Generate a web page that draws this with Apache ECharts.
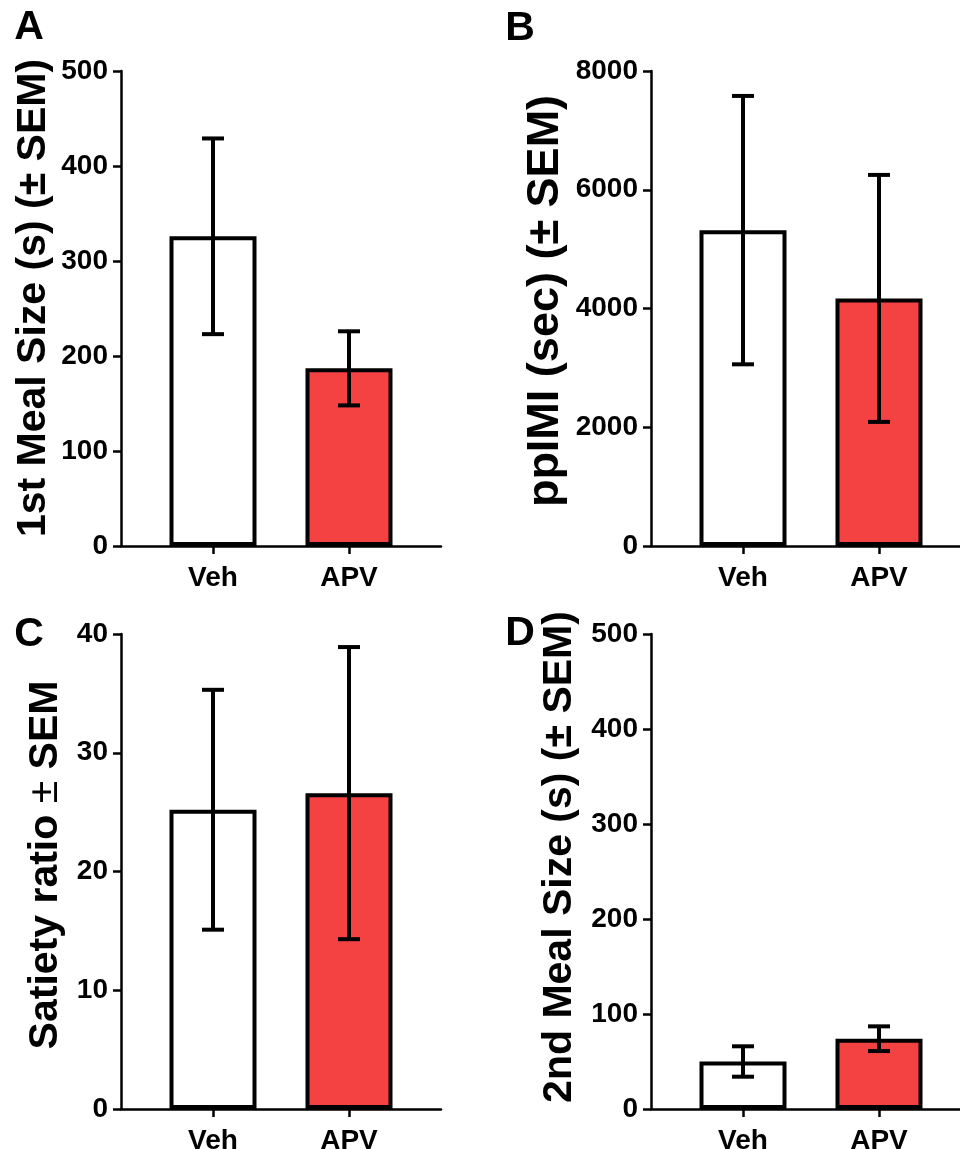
<!DOCTYPE html>
<html>
<head>
<meta charset="utf-8">
<script src="https://cdn.jsdelivr.net/npm/echarts@6/dist/echarts.min.js"></script>
<style>
  html, body { margin: 0; padding: 0; background: #ffffff; }
  #chart { width: 960px; height: 1149px; }
</style>
</head>
<body>
<div id="chart"></div>
<script>
// Treatment groups and their positions on the x scale
const groups = ['Veh', 'APV'];
const groupPos = [1, 2];

// A: first meal size (s), mean and SEM
const firstMealMean = [326, 187];
const firstMealSem = [103, 39];

// B: post-prandial inter-meal interval (sec), mean and SEM
const ppimiMean = [5320, 4170];
const ppimiSem = [2260, 2080];

// C: satiety ratio, mean and SEM
const satietyMean = [25.2, 26.6];
const satietySem = [10.1, 12.3];

// D: second meal size (s), mean and SEM
const secondMealMean = [50, 74];
const secondMealSem = [16, 13];

// y-axis ranges
const yMaxA = 500, yStepA = 100;
const yMaxB = 8000, yStepB = 2000;
const yMaxC = 40, yStepC = 10;
const yMaxD = 500, yStepD = 100;

const FONT = "'Liberation Sans', Arial, Helvetica, sans-serif";
const barFill = ['#ffffff', '#f44242'];

const panels = [
  { left: 121, top: 71,  max: yMaxA, step: yStepA, mean: firstMealMean,  sem: firstMealSem },
  { left: 651, top: 71,  max: yMaxB, step: yStepB, mean: ppimiMean,      sem: ppimiSem },
  { left: 121, top: 634, max: yMaxC, step: yStepC, mean: satietyMean,    sem: satietySem },
  { left: 651, top: 634, max: yMaxD, step: yStepD, mean: secondMealMean, sem: secondMealSem }
];

const axisLineStyle = { color: '#000', width: 2.5 };

// fixed plot rectangles; the right-hand x axes run off the page edge
const grid = panels.map(p => ({
  left: p.left, top: p.top, width: 320, height: 475,
  containLabel: false, outerBoundsMode: 'none'
}));

const xAxis = panels.map((p, i) => ({
  type: 'value',
  gridIndex: i,
  min: 0.3235,
  max: 2.6765,
  splitLine: { show: false },
  axisLine: { show: true, onZero: false, lineStyle: axisLineStyle },
  axisTick: { show: true, customValues: groupPos, length: 8, lineStyle: axisLineStyle },
  axisLabel: {
    customValues: groupPos,
    formatter: v => groups[groupPos.indexOf(Math.round(v))],
    color: '#000', fontFamily: FONT, fontWeight: 'bold', fontSize: 28, margin: 18
  }
}));

const yAxis = panels.map((p, i) => ({
  type: 'value',
  gridIndex: i,
  min: 0,
  max: p.max,
  interval: p.step,
  splitLine: { show: false },
  axisLine: { show: true, onZero: false, lineStyle: axisLineStyle },
  axisTick: { show: true, length: 8, lineStyle: axisLineStyle },
  axisLabel: {
    formatter: v => String(v),
    color: '#000', fontFamily: FONT, fontWeight: 'bold', fontSize: 28, margin: 13
  }
}));

// SEM whiskers with caps, positioned through the panel's own scales
function errorBar(params, api) {
  const x = api.value(0), m = api.value(1), s = api.value(2);
  const hi = api.coord([x, m + s]);
  const lo = api.coord([x, m - s]);
  const hw = 11;
  const st = { stroke: '#000', lineWidth: 4, lineCap: 'butt' };
  return {
    type: 'group',
    children: [
      { type: 'line', shape: { x1: hi[0], y1: hi[1], x2: lo[0], y2: lo[1] }, style: st },
      { type: 'line', shape: { x1: hi[0] - hw, y1: hi[1], x2: hi[0] + hw, y2: hi[1] }, style: st },
      { type: 'line', shape: { x1: lo[0] - hw, y1: lo[1], x2: lo[0] + hw, y2: lo[1] }, style: st }
    ]
  };
}

const series = [];
panels.forEach((p, i) => {
  series.push({
    type: 'bar',
    xAxisIndex: i,
    yAxisIndex: i,
    barWidth: 87,
    itemStyle: { borderColor: '#000', borderWidth: 4 },
    emphasis: { disabled: true },
    data: groupPos.map((x, j) => ({ value: [x, p.mean[j]], itemStyle: { color: barFill[j] } })),
    z: 2
  });
  series.push({
    type: 'custom',
    xAxisIndex: i,
    yAxisIndex: i,
    renderItem: errorBar,
    encode: { x: 0, y: 1 },
    data: groupPos.map((x, j) => [x, p.mean[j], p.sem[j]]),
    z: 3
  });
});

// Panel letters and rotated y-axis titles
function letter(t, x, y) {
  return {
    type: 'text', x: x, y: y,
    style: { text: t, fill: '#000', font: 'bold 41px ' + FONT,
             textAlign: 'center', align: 'center', textVerticalAlign: 'middle', verticalAlign: 'middle' }
  };
}
function yTitle(x, y, size, text, rich) {
  const style = { text: text, fill: '#000', font: 'bold ' + size + 'px ' + FONT,
                  textAlign: 'center', align: 'center', textVerticalAlign: 'middle', verticalAlign: 'middle' };
  if (rich) style.rich = rich;
  return { type: 'text', x: x, y: y, rotation: Math.PI / 2, style: style };
}

const graphic = [
  letter('A', 29, 28),
  letter('B', 520, 29),
  letter('C', 29, 635),
  letter('D', 520, 634),
  yTitle(34, 298, 41, '1st Meal Size (s) (\u00b1 SEM)'),
  yTitle(546, 301, 45, 'ppIMI (sec) (\u00b1 SEM)'),
  yTitle(46, 865, 41, '{b|Satiety ratio }{t|\u00b1}{b| SEM}', {
    b: { fontFamily: FONT, fontWeight: 'bold', fontSize: 41, fill: '#000', color: '#000' },
    t: { fontFamily: FONT, fontWeight: 'normal', fontSize: 41, fill: '#000', color: '#000' }
  }),
  yTitle(560, 857, 41, '2nd Meal Size (s) (\u00b1 SEM)')
];

const chart = echarts.init(document.getElementById('chart'), null, { renderer: 'canvas' });
chart.setOption({
  backgroundColor: '#ffffff',
  animation: false,
  grid: grid,
  xAxis: xAxis,
  yAxis: yAxis,
  series: series,
  graphic: graphic
});
</script>
</body>
</html>
